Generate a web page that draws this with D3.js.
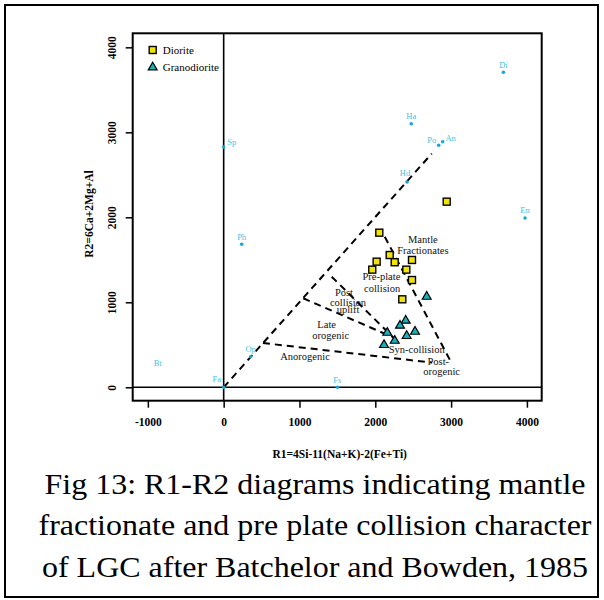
<!DOCTYPE html>
<html lang="en">
    <head>
        <meta charset="utf-8">
        <title>R1-R2 diagram</title>
        <script src="https://d3js.org/d3.v7.min.js"></script>
        <style type="text/css">
        body { margin: 0; background: #fff; }
        </style>
    </head>
    <body>
        <script type="text/javascript">

//1. data
const dioriteR1 = [2942, 2053, 2190, 2018, 2256, 2484, 1960, 2409, 2484, 2356];
const dioriteR2 = [2184, 1819, 1556, 1478, 1471, 1498, 1384, 1384, 1262, 1035];

const granoR1 = [2678, 2401, 2326, 2524, 2158, 2414, 2256, 2115];
const granoR2 = [1066, 784, 725, 654, 642, 604, 548, 498];

// mineral reference points (Bt has a label only)
const mineralNames = ["Di", "Ha", "Po", "An", "Hd", "En", "Sp", "Ph", "Op", "Fa", "Fs", "Bt"];
const mineralR1 = [3690, 2475, 2836, 2889, 2418, 3975, 0, 237, 356, 0, 1500, -868];
const mineralR2 = [3706, 3101, 2847, 2889, 2415, 1992, 2827, 1682, 360, 0, 0, 190];

// dashed field boundaries: [r1, r2] start and end
const boundaryNames = ["main", "anorogenic", "syn-post", "uplift", "late"];
const boundaryFrom = [[0, 0], [518, 521], [2125, 1771], [1425, 1301], [1050, 1047]];
const boundaryTo = [[2745, 2750], [2750, 290], [3008, 282], [2282, 545], [2216, 595]];

// field names, one entry per text line
const fieldLines = ["Mantle", "Fractionates", "Pre-plate", "collision", "Post", "collision", "uplift",
                    "Late", "orogenic", "Anorogenic", "Syn-collision", "Post-", "orogenic"];
const fieldR1 = [2628, 2628, 2080, 2090, 1587, 1640, 1640, 1359, 1412, 1073, 2547, 2831, 2875];
const fieldR2 = [1741, 1607, 1299, 1163, 1120, 1003, 917, 739, 605, 361, 449, 301, 183];

const xTicks = [-1000, 0, 1000, 2000, 3000, 4000];
const yTicks = [0, 1000, 2000, 3000, 4000];

const caption = ["Fig 13: R1-R2 diagrams indicating mantle",
                 "fractionate and pre plate collision character",
                 "of LGC after Batchelor and Bowden, 1985"];

//2. layout
const serif = "'Liberation Serif', 'Times New Roman', Times";
const svgWidth = 604;
const svgHeight = 600;
const box = {left: 132.7, right: 541.7, top: 33.3, bottom: 400.7};

const xScale = d3.scaleLinear().domain([-1200, 4195]).range([box.left, box.right]);
const yScale = d3.scaleLinear().domain([-158, 4165]).range([box.bottom, box.top]);

// small nudges for mineral labels (pixels)
const labelNudge = {Po: [-7, -5], An: [8, -4], Sp: [8, -5], Fa: [-7, -8], Hd: [-2, -9], Bt: [0, -8]};

const svg = d3.select("body")
    .append("svg")
    .attr("width", svgWidth)
    .attr("height", svgHeight);

svg.append("rect")
    .attr("width", svgWidth).attr("height", svgHeight)
    .attr("fill", "#fff");

// outer frame
svg.append("rect")
    .attr("x", 5).attr("y", 5)
    .attr("width", 593).attr("height", 592)
    .attr("fill", "none")
    .attr("stroke", "#000")
    .attr("stroke-width", 2);

//3. axes
const bottomAxis = d3.axisBottom(xScale)
    .tickValues(xTicks)
    .tickFormat(d => String(d))
    .tickSize(7)
    .tickPadding(10);

const gx = svg.append("g")
    .attr("transform", "translate(0," + box.bottom + ")")
    .call(bottomAxis);
gx.select(".domain").remove();
gx.selectAll("line").attr("stroke-width", 1.5);
gx.selectAll("text")
    .style("font-family", serif)
    .style("font-weight", "bold")
    .style("font-size", "11.5px");

const leftAxis = d3.axisLeft(yScale)
    .tickValues(yTicks)
    .tickFormat(d => String(d))
    .tickSize(7);

const gy = svg.append("g")
    .attr("transform", "translate(" + box.left + ",0)")
    .call(leftAxis);
gy.select(".domain").remove();
gy.selectAll("line").attr("stroke-width", 1.5);
gy.selectAll("text")
    .attr("x", 0)
    .attr("dy", 0)
    .attr("text-anchor", "middle")
    .attr("transform", "translate(-16.7,0) rotate(-90)")
    .style("font-family", serif)
    .style("font-weight", "bold")
    .style("font-size", "11.5px");

// axis titles
svg.append("text")
    .attr("x", 339.7).attr("y", 458)
    .attr("text-anchor", "middle")
    .style("font-family", serif)
    .style("font-weight", "bold")
    .style("font-size", "11.5px")
    .text("R1=4Si-11(Na+K)-2(Fe+Ti)");

svg.append("text")
    .attr("transform", "translate(92.5,214) rotate(-90)")
    .attr("text-anchor", "middle")
    .style("font-family", serif)
    .style("font-weight", "bold")
    .style("font-size", "11.5px")
    .text("R2=6Ca+2Mg+Al");

//4. plot box and zero lines
svg.append("line")
    .attr("x1", xScale(0)).attr("x2", xScale(0))
    .attr("y1", box.top).attr("y2", box.bottom)
    .attr("stroke", "#000").attr("stroke-width", 1.6);

svg.append("line")
    .attr("x1", box.left).attr("x2", box.right)
    .attr("y1", yScale(0)).attr("y2", yScale(0))
    .attr("stroke", "#000").attr("stroke-width", 1.6);

svg.append("rect")
    .attr("x", box.left).attr("y", box.top)
    .attr("width", box.right - box.left)
    .attr("height", box.bottom - box.top)
    .attr("fill", "none")
    .attr("stroke", "#000")
    .attr("stroke-width", 2);

//5. dashed boundaries
svg.selectAll(null)
    .data(boundaryNames)
    .enter()
    .append("line")
    .attr("x1", (d, i) => xScale(boundaryFrom[i][0]))
    .attr("y1", (d, i) => yScale(boundaryFrom[i][1]))
    .attr("x2", (d, i) => xScale(boundaryTo[i][0]))
    .attr("y2", (d, i) => yScale(boundaryTo[i][1]))
    .attr("stroke", "#000")
    .attr("stroke-width", 2)
    .attr("stroke-dasharray", "7,5");

//6. minerals
const minerals = mineralNames.map((n, i) => ({name: n, r1: mineralR1[i], r2: mineralR2[i]}));

svg.selectAll(null)
    .data(minerals.filter(d => d.name !== "Bt"))
    .enter()
    .append("circle")
    .attr("cx", d => xScale(d.r1))
    .attr("cy", d => yScale(d.r2))
    .attr("r", 1.8)
    .attr("fill", "#18a6d8");

svg.selectAll(null)
    .data(minerals)
    .enter()
    .append("text")
    .attr("x", d => xScale(d.r1) + (labelNudge[d.name] ? labelNudge[d.name][0] : 0))
    .attr("y", d => yScale(d.r2) + (labelNudge[d.name] ? labelNudge[d.name][1] : -7.5) + 3)
    .attr("text-anchor", "middle")
    .style("font-family", serif)
    .style("font-size", "8.5px")
    .attr("fill", "#3cc4e6")
    .text(d => d.name);

//7. field labels
svg.selectAll(null)
    .data(fieldLines)
    .enter()
    .append("text")
    .attr("x", (d, i) => xScale(fieldR1[i]))
    .attr("y", (d, i) => yScale(fieldR2[i]) + 3.5)
    .attr("text-anchor", "middle")
    .style("font-family", serif)
    .style("font-size", "10.5px")
    .attr("fill", "#111")
    .text(d => d);

//8. samples
const diorite = dioriteR1.map((v, i) => ({r1: v, r2: dioriteR2[i]}));
const grano = granoR1.map((v, i) => ({r1: v, r2: granoR2[i]}));
const sq = 7;

svg.selectAll(null)
    .data(diorite)
    .enter()
    .append("rect")
    .attr("x", d => xScale(d.r1) - sq / 2)
    .attr("y", d => yScale(d.r2) - sq / 2)
    .attr("width", sq).attr("height", sq)
    .attr("fill", "#f2e400")
    .attr("stroke", "#000")
    .attr("stroke-width", 1.4);

const tri = d3.symbol().type(d3.symbolTriangle).size(34);

svg.selectAll(null)
    .data(grano)
    .enter()
    .append("path")
    .attr("d", tri)
    .attr("transform", d => "translate(" + xScale(d.r1) + "," + yScale(d.r2) + ")")
    .attr("fill", "#16b2bc")
    .attr("stroke", "#000")
    .attr("stroke-width", 1.2);

//9. legend
svg.append("rect")
    .attr("x", 152.7 - sq / 2).attr("y", 50 - sq / 2)
    .attr("width", sq).attr("height", sq)
    .attr("fill", "#f2e400")
    .attr("stroke", "#000")
    .attr("stroke-width", 1.4);

svg.append("path")
    .attr("d", tri)
    .attr("transform", "translate(152.7,67.3)")
    .attr("fill", "#16b2bc")
    .attr("stroke", "#000")
    .attr("stroke-width", 1.2);

svg.append("text")
    .attr("x", 162.7).attr("y", 53.8)
    .style("font-family", serif)
    .style("font-size", "11px")
    .text("Diorite");

svg.append("text")
    .attr("x", 162.7).attr("y", 71.1)
    .style("font-family", serif)
    .style("font-size", "11px")
    .text("Granodiorite");

//10. caption
const capY = [493.5, 535, 576.5];
const capW = [541, 553, 546];
svg.selectAll(null)
    .data(caption)
    .enter()
    .append("text")
    .attr("x", 315)
    .attr("y", (d, i) => capY[i])
    .attr("text-anchor", "middle")
    .style("font-family", serif)
    .style("font-size", "29.5px")
    .attr("textLength", (d, i) => capW[i])
    .attr("lengthAdjust", "spacingAndGlyphs")
    .text(d => d);

</script>
</body>
</html>
